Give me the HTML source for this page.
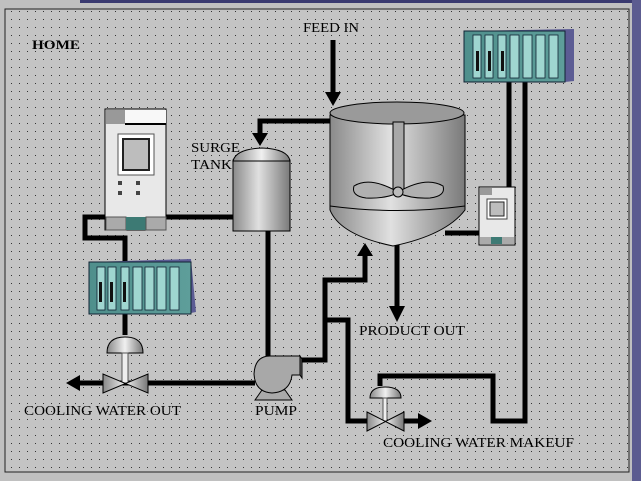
<!DOCTYPE html>
<html><head><style>
html,body{margin:0;padding:0;width:641px;height:481px;overflow:hidden;background:#c0c0c0}
svg{display:block}
text{font-family:"Liberation Serif",serif;fill:#000}
</style></head><body>
<svg width="641" height="481" viewBox="0 0 641 481" xmlns="http://www.w3.org/2000/svg">
<defs>
<pattern id="dots" x="0" y="0" width="8" height="8" patternUnits="userSpaceOnUse">
<rect width="8" height="8" fill="#c4c4c4"/><rect x="3" y="3" width="1" height="1" fill="#333"/>
</pattern>
<linearGradient id="cyl" x1="0" x2="1">
<stop offset="0" stop-color="#8a8a8a"/><stop offset="0.45" stop-color="#e0e0e0"/><stop offset="1" stop-color="#7a7a7a"/>
</linearGradient>
<linearGradient id="dome" x1="0" x2="1">
<stop offset="0" stop-color="#888"/><stop offset="0.5" stop-color="#f0f0f0"/><stop offset="1" stop-color="#777"/>
</linearGradient>
<linearGradient id="plc" x1="0" x2="1">
<stop offset="0" stop-color="#4f8f8c"/><stop offset="1" stop-color="#5e9e9a"/>
</linearGradient>
</defs>
<rect x="0" y="0" width="641" height="481" fill="#c0c0c0"/>
<rect x="80" y="0" width="561" height="3" fill="#3a3a70"/>
<rect x="632" y="0" width="9" height="481" fill="#5c5c90"/>
<rect x="5" y="9" width="624" height="463" fill="url(#dots)" stroke="#222" stroke-width="1"/>

<text x="32" y="49" font-size="13" font-weight="bold" textLength="48" lengthAdjust="spacingAndGlyphs">HOME</text>
<text x="303" y="32" font-size="14" textLength="56" lengthAdjust="spacingAndGlyphs">FEED IN</text>
<text x="191" y="152" font-size="14" textLength="49" lengthAdjust="spacingAndGlyphs">SURGE</text>
<text x="191" y="169" font-size="14" textLength="41" lengthAdjust="spacingAndGlyphs">TANK</text>
<text x="359" y="335" font-size="14" textLength="106" lengthAdjust="spacingAndGlyphs">PRODUCT OUT</text>
<text x="255" y="415" font-size="14" textLength="42" lengthAdjust="spacingAndGlyphs">PUMP</text>
<text x="24" y="415" font-size="14" textLength="157" lengthAdjust="spacingAndGlyphs">COOLING WATER OUT</text>
<text x="383" y="447" font-size="14" textLength="191" lengthAdjust="spacingAndGlyphs">COOLING WATER MAKEUF</text>

<g stroke="#000" stroke-width="5" fill="none">
<path d="M333 40 V100"/>
<path d="M330 121 H260 V138"/>
<path d="M166 217 H233"/>
<path d="M105 217 H85 V238 H125 V262"/>
<path d="M125 314 V335"/>
<path d="M268 231 V356"/>
<path d="M80 383 H255"/>
<path d="M300 360 H325 V280 H365 V252"/>
<path d="M325 320 H348 V421 H368"/>
<path d="M402 421 H420"/>
<path d="M397 245 V308"/>
<path d="M380 386 V376 H493 V421 H525 V82"/>
<path d="M509 82 V188"/>
<path d="M445 233 H479"/>
</g>
<g fill="#000">
<polygon points="325,92 341,92 333,106"/>
<polygon points="252,133 268,133 260,146"/>
<polygon points="389,306 405,306 397,322"/>
<polygon points="357,256 373,256 365,243"/>
<polygon points="80,375 80,391 66,383"/>
<polygon points="418,413 418,429 432,421"/>
</g>

<path d="M330 115 V210 Q340 235 393 246 Q446 235 465 210 V115 Z" fill="url(#cyl)" stroke="#000"/>
<ellipse cx="397" cy="113" rx="67" ry="11" fill="#9a9a9a" stroke="#000"/>
<path d="M330 206 Q397 215 465 206" fill="none" stroke="#000"/>
<rect x="393" y="122" width="11" height="70" fill="#a8a8a8" stroke="#000"/>
<path d="M354 186 Q370 176 398 192 Q426 176 443 186 Q446 196 430 198 Q412 199 398 193 Q384 199 366 198 Q351 196 354 186 Z" fill="#b0b0b0" stroke="#000"/>
<circle cx="398" cy="192" r="5" fill="#bbb" stroke="#000"/>

<rect x="233" y="160" width="57" height="71" fill="url(#cyl)" stroke="#000"/>
<path d="M233 161 Q236 149 262 148 Q288 149 290 161 Z" fill="url(#dome)" stroke="#000"/>

<rect x="105" y="109" width="61" height="121" fill="#e8e8e8" stroke="#000"/>
<rect x="106" y="110" width="19" height="14" fill="#999"/>
<rect x="125" y="110" width="41" height="13" fill="#f8f8f8"/>
<line x1="125" y1="124" x2="166" y2="124" stroke="#000" stroke-width="2"/>
<rect x="118" y="134" width="36" height="41" fill="#fff" stroke="#555"/>
<rect x="123" y="139" width="26" height="31" fill="#bdbdbd" stroke="#222" stroke-width="2"/>
<g fill="#444"><rect x="118" y="181" width="4" height="4"/><rect x="136" y="181" width="4" height="4"/><rect x="118" y="191" width="4" height="4"/><rect x="136" y="191" width="4" height="4"/></g>
<rect x="106" y="217" width="20" height="13" fill="#aaa" stroke="#555"/>
<rect x="126" y="217" width="20" height="13" fill="#3d7a74"/>
<rect x="146" y="217" width="20" height="13" fill="#aaa" stroke="#555"/>

<rect x="479" y="187" width="36" height="58" fill="#e8e8e8" stroke="#000"/>
<rect x="480" y="188" width="12" height="7" fill="#999"/>
<rect x="487" y="199" width="20" height="20" fill="#fff" stroke="#444"/>
<rect x="490" y="202" width="14" height="14" fill="#bdbdbd" stroke="#222"/>
<rect x="480" y="237" width="11" height="7" fill="#aaa"/><rect x="491" y="237" width="11" height="7" fill="#3d7a74"/><rect x="502" y="237" width="12" height="7" fill="#aaa"/>

<polygon points="465,31 574,29 574,81 565,82" fill="#5c5c94"/>
<rect x="464" y="31" width="101" height="51" fill="url(#plc)" stroke="#123"/>
<g fill="#9fd6d0" stroke="#123" stroke-width="0.8">
<rect x="473" y="35" width="8" height="43"/><rect x="485" y="35" width="8" height="43"/><rect x="498" y="35" width="8" height="43"/>
<rect x="510" y="35" width="9" height="43"/><rect x="523" y="35" width="9" height="43"/><rect x="536" y="35" width="9" height="43"/><rect x="549" y="35" width="9" height="43"/>
</g>
<g fill="#111"><rect x="476" y="51" width="3" height="20"/><rect x="488" y="51" width="3" height="20"/><rect x="501" y="51" width="3" height="20"/></g>

<polygon points="89,262 191,259 196,312 191,313" fill="#5c5c94"/>
<rect x="89" y="262" width="102" height="52" fill="url(#plc)" stroke="#123"/>
<g fill="#9fd6d0" stroke="#123" stroke-width="0.8">
<rect x="97" y="267" width="8" height="43"/><rect x="108" y="267" width="8" height="43"/><rect x="121" y="267" width="8" height="43"/>
<rect x="133" y="267" width="9" height="43"/><rect x="145" y="267" width="9" height="43"/><rect x="157" y="267" width="9" height="43"/><rect x="170" y="267" width="9" height="43"/>
</g>
<g fill="#111"><rect x="99" y="282" width="3" height="20"/><rect x="110" y="282" width="3" height="20"/><rect x="123" y="282" width="3" height="20"/></g>

<path d="M107 353 Q107 337 125 337 Q143 337 143 353 Z" fill="url(#dome)" stroke="#000"/>
<rect x="122" y="353" width="6" height="30" fill="#eee" stroke="#555"/>
<polygon points="103,374 103,393 148,374 148,393" fill="url(#dome)" stroke="#000"/>
<path d="M370 398 Q370 387 385 387 Q401 387 401 398 Z" fill="url(#dome)" stroke="#000"/>
<rect x="383" y="398" width="4" height="23" fill="#eee" stroke="#555"/>
<polygon points="367,412 367,431 404,412 404,431" fill="url(#dome)" stroke="#000"/>

<polygon points="255,400 262,390 285,390 292,400" fill="#aaa" stroke="#000"/>
<path d="M270 356 H300 V375 H292 Q290 392 272 393 Q255 392 254 374 Q255 356 270 356 Z" fill="#a8a8a8" stroke="#000"/>
<polygon points="300,356 302,359 302,378 300,375" fill="#666" stroke="#000"/>
</svg>
</body></html>
